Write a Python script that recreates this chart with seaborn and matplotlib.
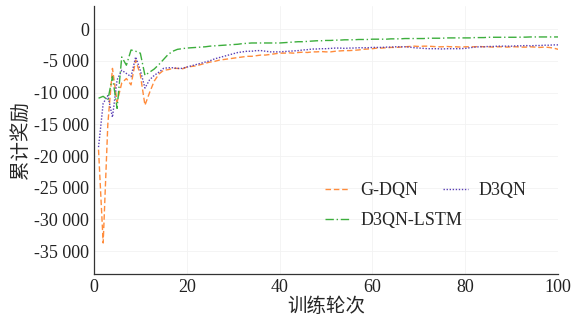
import numpy as np
import pandas as pd
import seaborn as sns
import matplotlib
matplotlib.use("Agg")
import matplotlib.pyplot as plt
from matplotlib.ticker import FuncFormatter

episodes = list(range(1, 101))
g_dqn = [-19000, -33700, -15000, -6200, -11500, -8500, -7800, -8800, -4900, -7200,
         -12000, -10000, -8200, -7100, -6500, -6400, -6200, -6200, -6300, -6000,
         -5900, -5800, -5600, -5400, -5200, -5100, -4900, -4800, -4700, -4600,
         -4500, -4400, -4300, -4300, -4200, -4100, -4100, -4000, -3900, -3800,
         -3800, -3750, -3800, -3700, -3650, -3700, -3600, -3600, -3550, -3600,
         -3600, -3500, -3450, -3400, -3400, -3350, -3300, -3200, -3150, -3100,
         -3000, -3000, -2950, -2900, -2900, -2850, -2800, -2750, -2700, -2750,
         -2700, -2700, -2750, -2800, -2800, -2750, -2800, -2800, -2850, -2800,
         -2800, -2800, -2750, -2800, -2800, -2850, -2800, -2800, -2850, -2800,
         -2800, -2850, -2850, -2800, -2850, -2900, -2850, -2900, -3000, -3200]
d3qn = [-18600, -11700, -10500, -13900, -8000, -6500, -7000, -7500, -4400, -6500,
        -9300, -8000, -7300, -6800, -6200, -6100, -6100, -6200, -6200, -6000,
        -5800, -5600, -5400, -5200, -5000, -4700, -4500, -4300, -4100, -3900,
        -3700, -3600, -3500, -3500, -3400, -3400, -3500, -3600, -3600, -3600,
        -3550, -3500, -3450, -3400, -3300, -3250, -3150, -3150, -3100, -3100,
        -3050, -3000, -3000, -3050, -3000, -3000, -2950, -2950, -2950, -2900,
        -2900, -2900, -2850, -2850, -2800, -2800, -2800, -2850, -2950, -3000,
        -3050, -3100, -3100, -3100, -3150, -3100, -3100, -3100, -3100, -3050,
        -2950, -2850, -2800, -2800, -2750, -2750, -2700, -2700, -2700, -2700,
        -2650, -2650, -2600, -2650, -2600, -2600, -2550, -2550, -2500, -2500]
d3qn_lstm = [-10900, -10600, -11200, -7500, -12500, -4400, -5700, -3300, -3500, -3800,
             -7300, -6800, -6300, -5600, -4800, -4000, -3500, -3200, -3100, -3000,
             -2950, -2900, -2850, -2800, -2700, -2650, -2600, -2550, -2500, -2450,
             -2400, -2300, -2250, -2200, -2200, -2200, -2200, -2200, -2200, -2200,
             -2150, -2100, -2050, -2000, -2000, -1950, -1900, -1850, -1850, -1800,
             -1800, -1750, -1750, -1700, -1700, -1700, -1650, -1650, -1650, -1600,
             -1600, -1600, -1600, -1550, -1550, -1550, -1500, -1500, -1500, -1500,
             -1500, -1450, -1450, -1450, -1450, -1400, -1400, -1400, -1400, -1400,
             -1400, -1350, -1350, -1350, -1300, -1300, -1300, -1300, -1300, -1300,
             -1300, -1280, -1280, -1250, -1250, -1250, -1250, -1250, -1250, -1250]
series_names = ["G-DQN", "D3QN", "D3QN-LSTM"]
x_ticks = [0, 20, 40, 60, 80, 100]
y_ticks = [0, -5000, -10000, -15000, -20000, -25000, -30000, -35000]

sns.set_theme(style="white")
plt.rcParams["font.family"] = ["Liberation Serif", "Noto Sans CJK SC"]

fig = plt.figure(figsize=(5.76, 3.24), dpi=100)
ax = fig.add_axes([0.163, 0.154, 0.806, 0.827])

colors = ["#ff8c3c", "#5a3fb5", "#3cae3c"]
styles = [(0, (4, 2)), (0, (1, 1.2)), (0, (6, 2, 1, 2))]
for name, vals, c, ls in zip(series_names, [g_dqn, d3qn, d3qn_lstm], colors, styles):
    df = pd.DataFrame({"x": episodes, "y": vals})
    sns.lineplot(data=df, x="x", y="y", ax=ax, color=c, linestyle=ls, lw=1.0, label=name)

ax.set_xlim(0, 100)
ax.set_ylim(-38600, 3600)
ax.set_xticks(x_ticks)
ax.set_yticks(y_ticks)
ax.yaxis.set_major_formatter(FuncFormatter(lambda v, p: f"{int(v):,}".replace(",", " ")))
ax.tick_params(direction="in", length=3, labelsize=13, colors="#222222", width=0.8)
ax.grid(True, color="#f2f2f2", lw=0.6)
for s in ["top", "right"]:
    ax.spines[s].set_visible(False)
for s in ["left", "bottom"]:
    ax.spines[s].set_color("#333333")
    ax.spines[s].set_linewidth(0.9)

ax.set_xlabel("训练轮次", fontsize=14, family="Noto Sans CJK SC", labelpad=0)
ax.set_ylabel("累计奖励", fontsize=14, family="Noto Sans CJK SC", labelpad=2)

handles, labels = ax.get_legend_handles_labels()
order = [0, 2, 1]
leg = ax.legend([handles[i] for i in order], [labels[i] for i in order],
                loc="upper left", bbox_to_anchor=(0.462, 0.405), ncol=2, frameon=False,
                fontsize=13, handlelength=1.4, columnspacing=-1.1, handletextpad=0.6,
                labelspacing=0.75)

fig.savefig("out.png", dpi=100)
